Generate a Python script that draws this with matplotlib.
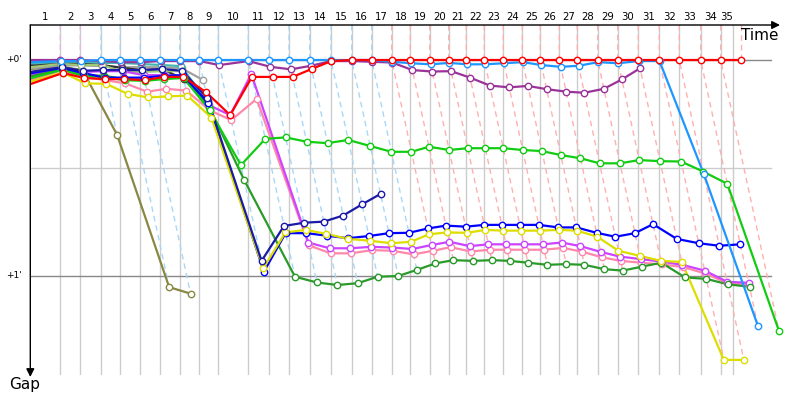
import matplotlib
matplotlib.use('Agg')
import matplotlib.pyplot as plt

# ---------------- data ----------------
# leader's cumulative time (s) at the end of each lap (index = lap number)
lap_times = [0, 38.7, 64.5, 91.2, 116.1, 141.9, 167.7, 192.8, 217.7, 242.6,
             281.3, 308.0, 333.8, 360.5, 388.0, 414.7, 440.5, 466.3, 490.3, 515.4,
             539.9, 562.6, 585.8, 610.3, 634.8, 658.1, 682.6, 705.8, 732.1, 757.9,
             784.5, 811.6, 837.4, 865.0, 890.8, 916.6]
finish_time = 906.3
lap_labels = [str(i) for i in range(1, 36)]
# leader colour (for the dashed lap lines) for laps 1..35
lap_leader = ['purple'] * 2 + ['lblue'] * 14 + ['red'] * 19

# gap to leader (s) at the end of each lap, starting with lap 0
gap_red = [6.7, 3.6, 5.0, 5.3, 5.3, 5.6, 4.7, 4.7, 8.9, 15.3, 4.7, 4.7, 4.7, 2.5, 0.3] + [0] * 21
gap_lblue = [0.6, 0.3, 0.3] + [0] * 14 + [0.5, 0.9, 1.2, 0.8, 1.2, 1.2, 0.9, 0.6, 1.4, 1.9,
                                          1.6, 0.6, 0.9, 0.3, 0.3, 31.7, 73.8]
gap_purple = [0, 0, 0, 0.3, 0.6, 0.6, 0.3, 0.3, 0.3, 1.4, 0.3, 1.9, 2.6, 1.6, 0.3, 0.3, 0.5,
              0.7, 2.8, 3.2, 3.1, 4.9, 7.1, 7.6, 7.2, 8.1, 8.8, 9.1, 8.0, 5.4, 2.3]
gap_bgreen = [5.1, 2.7, 4.4, 4.7, 5.6, 5.8, 5.3, 5.0, 14, 29.2, 21.9, 21.5, 22.7, 23.1, 22.2,
              23.9, 25.5, 25.5, 24.1, 25, 24.5, 24.5, 24.5, 25, 25.3, 26.4, 27.3, 28.7, 28.7,
              27.8, 28.1, 28.2, 31, 34.4, 75.3]
gap_dgreen = [4.6, 2.5, 4.2, 4.4, 5.3, 5.6, 5.0, 4.7, 13, 33.3, 60.2, 61.8, 62.5, 62, 60.2,
              60, 58.3, 56.5, 55.6, 55.8, 55.6, 55.8, 56.3, 56.9, 56.7, 56.9, 58.1, 58.5,
              57.4, 56.3, 60.4, 60.8, 62.3, 63]
gap_navy = [3.3, 2.0, 3.0, 2.8, 2.8, 2.8, 2.5, 3.0, 10.5, 55.8, 46.1, 45.2, 44.9, 43.2, 40.1, 37.2]
gap_blue = [3.7, 2.2, 3.6, 4.9, 4.9, 4.9, 4.4, 4.2, 12, 58.8, 48.1, 48.1, 48.8, 49.5, 48.9,
            48.1, 48, 46.8, 46, 46.3, 45.8, 45.8, 45.8, 45.8, 46.5, 46.5, 48, 49.1, 48.1,
            45.6, 49.7, 50.9, 51.6, 51.2]
gap_yellow = [6.0, 3.5, 6.5, 6.6, 9.4, 10.4, 10.1, 9.9, 16, 57.9, 47.9, 47.2, 48.3, 49.7,
              50.2, 50.9, 50.5, 48.4, 47.9, 48, 47.2, 47.4, 47.4, 47.4, 47.2, 47.4, 49.1,
              53, 54.4, 55.8, 56.1, 83.3, 83.3]
gap_magenta = [4.2, 2.4, 3.3, 3.1, 3.1, 4.2, 4.2, 4.5, 12.5, 15.3, 3.9, 50.7, 52.3, 52.3,
               51.9, 52.1, 52.5, 51.4, 50.5, 51.7, 51.2, 51.2, 51.2, 51.2, 50.7, 51.7,
               53.3, 54.6, 55.3, 56, 56.9, 58.5, 61.6, 61.9]
gap_pink = [5.6, 2.8, 4.7, 5.6, 6.5, 8.8, 8.0, 8.5, 14, 16.7, 10.8, 51.5, 53.7, 53.7, 52.8,
            53.0, 54, 53, 52, 53.2, 52.7, 52.7, 52.7, 52.7, 52.2, 53.2, 54.8, 55.8, 56.3,
            56.8, 57.5, 59.3, 62.0, 62.5]
gap_olive = [2.5, 1.9, 2.8, 20.8, 63.1, 64.9]
gap_grey = [2.3, 1.5, 1.5, 1.7, 2.0, 2.0, 2.0, 2.3, 5.6]
gap_teal = [1.1, 0.6, 0.6, 0.8, 0.8, 1.1, 1.4, 1.7, 12]
gap_black = [1.6, 1.1, 1.1, 1.4, 2.2, 2.8, 2.5, 5.4, 11.5]
gap_sage = [2.0, 1.1, 1.4, 1.4, 3.3, 3.3, 3.1, 3.1, 14]

colors = {
    'red': '#ff0000', 'lblue': '#1e96ff', 'purple': '#993399', 'bgreen': '#11cc11',
    'dgreen': '#2a9a2a', 'navy': '#1a1aa8', 'blue': '#0000ff', 'yellow': '#dddd00',
    'magenta': '#cc44ff', 'pink': '#ff88aa', 'olive': '#888844', 'grey': '#a0a0a0',
    'teal': '#40b8b0', 'black': '#333333', 'sage': '#a0c878',
}
dash_colors = {'purple': '#e6b8e6', 'lblue': '#a8d8f8', 'red': '#ffb0b0'}

series = [
    ('olive', gap_olive), ('grey', gap_grey), ('teal', gap_teal), ('black', gap_black),
    ('sage', gap_sage), ('pink', gap_pink), ('magenta', gap_magenta), ('dgreen', gap_dgreen),
    ('bgreen', gap_bgreen), ('blue', gap_blue), ('yellow', gap_yellow), ('navy', gap_navy),
    ('purple', gap_purple), ('lblue', gap_lblue), ('red', gap_red),
]

# ---------------- figure ----------------
W, H = 800, 400
fig = plt.figure(figsize=(8, 4), dpi=100)
x0_px, xs = 30.3, 0.775      # px of time 0, px per second (x)
y0_px, ys = 60.0, 3.6        # px of gap 0, px per second (y)
right_px, top_px, bot_px = 790, 25, 375
ax = fig.add_axes([x0_px / W, 1 - bot_px / H, (right_px - x0_px) / W, (bot_px - top_px) / H])
xmax = (right_px - x0_px) / xs
gtop = (top_px - y0_px) / ys
gbot = (bot_px - y0_px) / ys
ax.set_xlim(0, xmax)
ax.set_ylim(gbot, gtop)
ax.axis('off')

# vertical lap lines
grid_x = lap_times[1:35] + [finish_time]
for t in grid_x:
    ax.plot([t, t], [gtop, gbot], color='#cccccc', lw=1, zorder=1)

# horizontal reference lines
hend = (770.7 - x0_px) / xs
ax.plot([0, hend], [30, 30], color='#cccccc', lw=1, zorder=1)
ax.plot([0, hend], [0, 0], color='#888888', lw=1, zorder=1.5)
ax.plot([0, hend], [60, 60], color='#888888', lw=1, zorder=1.5)

# dashed lap lines (slope: own time = leader time + gap)
for k in range(1, 36):
    gmax = max(g[k] for _, g in series if len(g) > k)
    t = lap_times[k]
    ax.plot([t, t, t + gmax], [gtop, 0, gmax], color=dash_colors[lap_leader[k - 1]],
            lw=1, ls=(0, (4, 3)), zorder=2)

# driver traces
for name, g in series:
    xs_ = [lap_times[0]] + [lap_times[k] + g[k] for k in range(1, len(g))]
    ax.plot(xs_, g, color=colors[name], lw=1.6, zorder=3, solid_joinstyle='round')
    ax.plot(xs_[1:], g[1:], ls='none', marker='o', ms=4.6, mfc='white',
            mec=colors[name], mew=1.0, zorder=4)

# axes arrows
ax.annotate('', xy=((780 - x0_px) / xs, gtop), xytext=(0, gtop),
            arrowprops=dict(arrowstyle='-|>', color='black', lw=1, mutation_scale=12,
                            shrinkA=0, shrinkB=0), annotation_clip=False, zorder=6)
ax.annotate('', xy=(0, (377 - y0_px) / ys), xytext=(0, gtop),
            arrowprops=dict(arrowstyle='-|>', color='black', lw=1, mutation_scale=12,
                            shrinkA=0, shrinkB=0), annotation_clip=False, zorder=6)

# lap labels centred in each lap interval
bounds = [0] + grid_x
for i, lab in enumerate(lap_labels):
    mid = (bounds[i] + bounds[i + 1]) / 2
    ax.text(mid, (17 - y0_px) / ys, lab, ha='center', va='center', fontsize=7.3,
            clip_on=False)

fig.text(760 / W, 1 - 35 / H, 'Time', ha='center', va='center', fontsize=11)
fig.text(25 / W, 1 - 385 / H, 'Gap', ha='center', va='center', fontsize=11)
fig.text(22 / W, 1 - 60 / H, "+0'", ha='right', va='center', fontsize=6.5)
fig.text(22 / W, 1 - 276 / H, "+1'", ha='right', va='center', fontsize=6.5)

fig.savefig('out.png', dpi=100)
